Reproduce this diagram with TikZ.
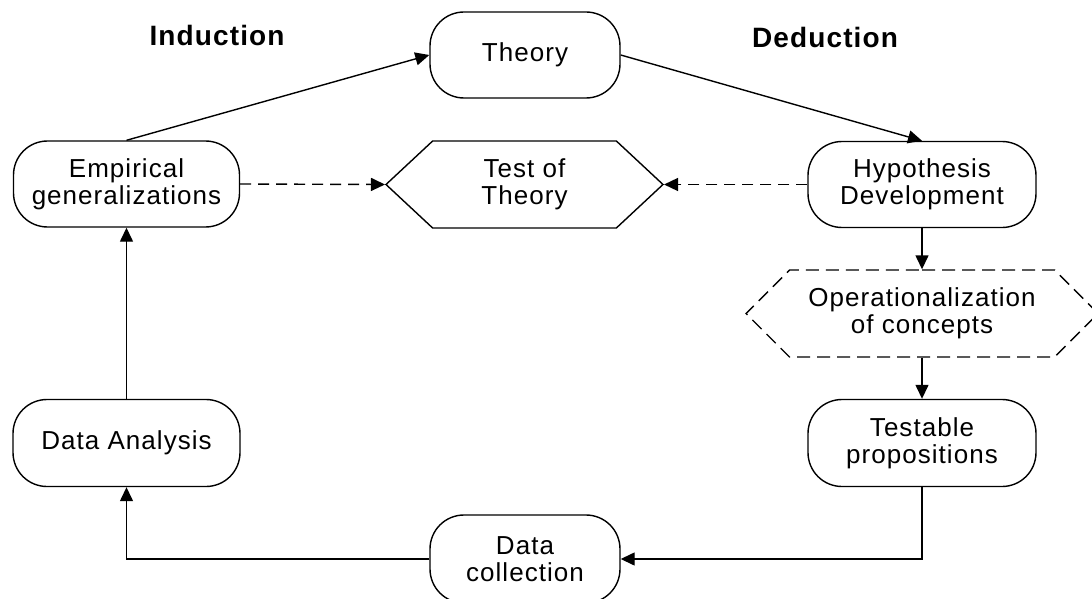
\documentclass[tikz,border=0pt]{standalone}
\usepackage{fontspec}
\setmainfont{Liberation Sans}[LetterSpace=4]
\usetikzlibrary{shapes.symbols, arrows.meta}

\tikzset{
  stage/.style={draw, rounded corners=17pt, minimum height=43pt, inner sep=0pt,
    align=center, font=\fontsize{13}{13.5}\selectfont},
  testbox/.style={draw, signal, signal to=west and east, minimum height=43.5pt,
    inner sep=0pt, align=center, font=\fontsize{13}{13.5}\selectfont},
  flow/.style={-{Triangle[length=7pt, width=6.5pt]}},
  dashline/.style={dash pattern=on 5.5pt off 3.5pt},
  side/.style={font=\fontsize{14}{16}\selectfont\bfseries}
}

\begin{document}
\begin{tikzpicture}[x=0.5pt, y=-0.5pt, line width=0.7pt]
  \clip (0,0) rectangle (1092,599);

  % Headings
  \node[side] (ind) at (217,35) {Induction};
  \node[side] (ded) at (825,37) {Deduction};

  % Cycle
  \node[stage, minimum width=95pt] (theory) at (525,55) {Theory};
  \node[stage, minimum width=113pt] (emp) at (126.5,184) {Empirical\\generalizations};
  \node[testbox, minimum width=138.5pt, signal pointer angle=86] (test) at (524.5,184.5) {Test of\\Theory};
  \node[stage, minimum width=114pt] (hyp) at (922,184.5) {Hypothesis\\Development};
  \node[testbox, dash pattern=on 6.5pt off 3.5pt, minimum width=176pt, signal pointer angle=90] (oper) at (922,313.5) {Operationalization\\of concepts};
  \node[stage, minimum width=114pt, minimum height=43.5pt] (testable) at (922,443) {Testable\\propositions};
  \node[stage, minimum width=113.5pt, minimum height=43.5pt] (analysis) at (126.5,443) {Data Analysis};
  \node[stage, minimum width=95pt, minimum height=44pt] (collection) at (525,559) {Data\\collection};

  % Arrows
  \draw[flow] (emp.north) -- (theory.west);
  \draw[flow] (theory.east) -- (hyp.north);
  \draw[flow, dashline] (emp.east) -- (test.west);
  \draw[flow, dashline] (hyp.west) -- (test.east);
  \draw[flow] (hyp.south) -- (oper.north);
  \draw[flow] (oper.south) -- (testable.north);
  \draw[flow] (testable.south) |- (collection.east);
  \draw[flow] (collection.west) -| (analysis.south);
  \draw[flow] (analysis.north) -- (emp.south);
\end{tikzpicture}
\end{document}
